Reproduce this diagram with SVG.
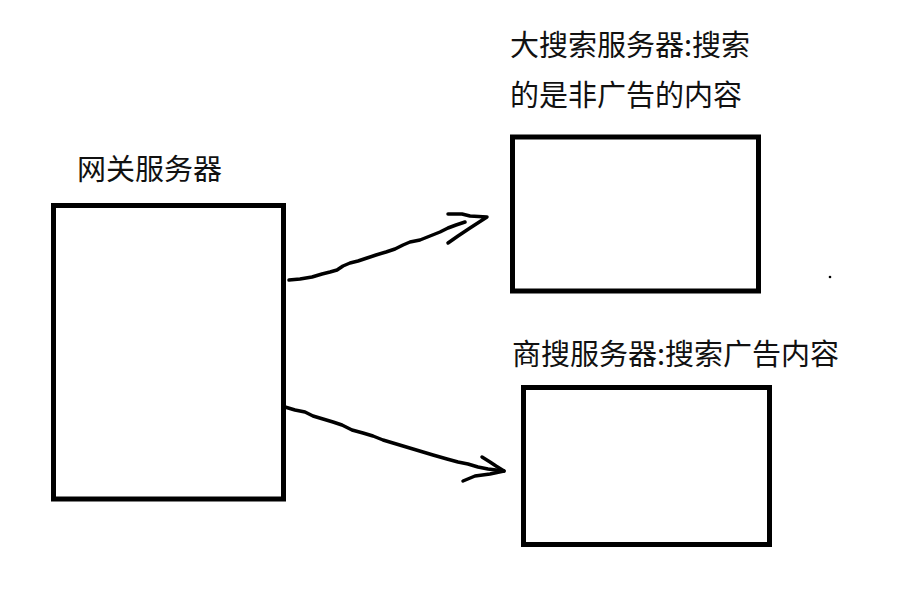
<svg xmlns="http://www.w3.org/2000/svg" width="903" height="615" viewBox="0 0 903 615">
<style>
.box{fill:#fff;stroke:#000;stroke-width:5}
.lbl{font-family:"Noto Sans CJK SC","Noto Sans",sans-serif;font-size:29px;fill:#111}
.wire{fill:none;stroke:#000;stroke-width:3.5;stroke-linecap:round;stroke-linejoin:round}
</style>
<rect width="903" height="615" fill="#fff"/>
<g id="gateway">
<rect class="box" x="53.5" y="205.5" width="230" height="293.5"/>
<text class="lbl" x="77" y="180">网关服务器</text>
</g>
<g id="bigsearch">
<rect class="box" x="512.5" y="137" width="246" height="154"/>
<text class="lbl" x="510" y="56">大搜索服务器:搜索</text>
<text class="lbl" x="510" y="106">的是非广告的内容</text>
</g>
<g id="adsearch">
<rect class="box" x="523.5" y="387.5" width="246" height="157"/>
<text class="lbl" x="512" y="365">商搜服务器:搜索广告内容</text>
</g>
<g id="connectors">
<path class="wire" d="M289,280 L300,279 L312,277 L322,274 L330,272 L337,270 L343,266 L350,263 L358,261 L367,258 L376,255 L386,252 L395,249 L403,245 L410,242 L420,240 L430,236 L440,232 L448,228 L456,225 L465,222"/>
<path class="wire" d="M448,214 L462,214 L470,216 L487,217 L470,228 L458,236 L448,243"/>
<path class="wire" d="M285,407 L295,410 L305,412 L313,416 L323,419 L333,422 L342,425 L352,430 L363,433 L373,436 L383,440 L393,443 L403,446 L413,449 L423,452 L433,455 L447,459 L458,462 L468,464 L478,467 L488,469 L504,471"/>
<path class="wire" d="M482,457 L490,462 L496,466 L504,471 L490,474 L475,476 L463,481"/>
<circle cx="830" cy="277" r="1.3" fill="#000"/>
</g>
</svg>
